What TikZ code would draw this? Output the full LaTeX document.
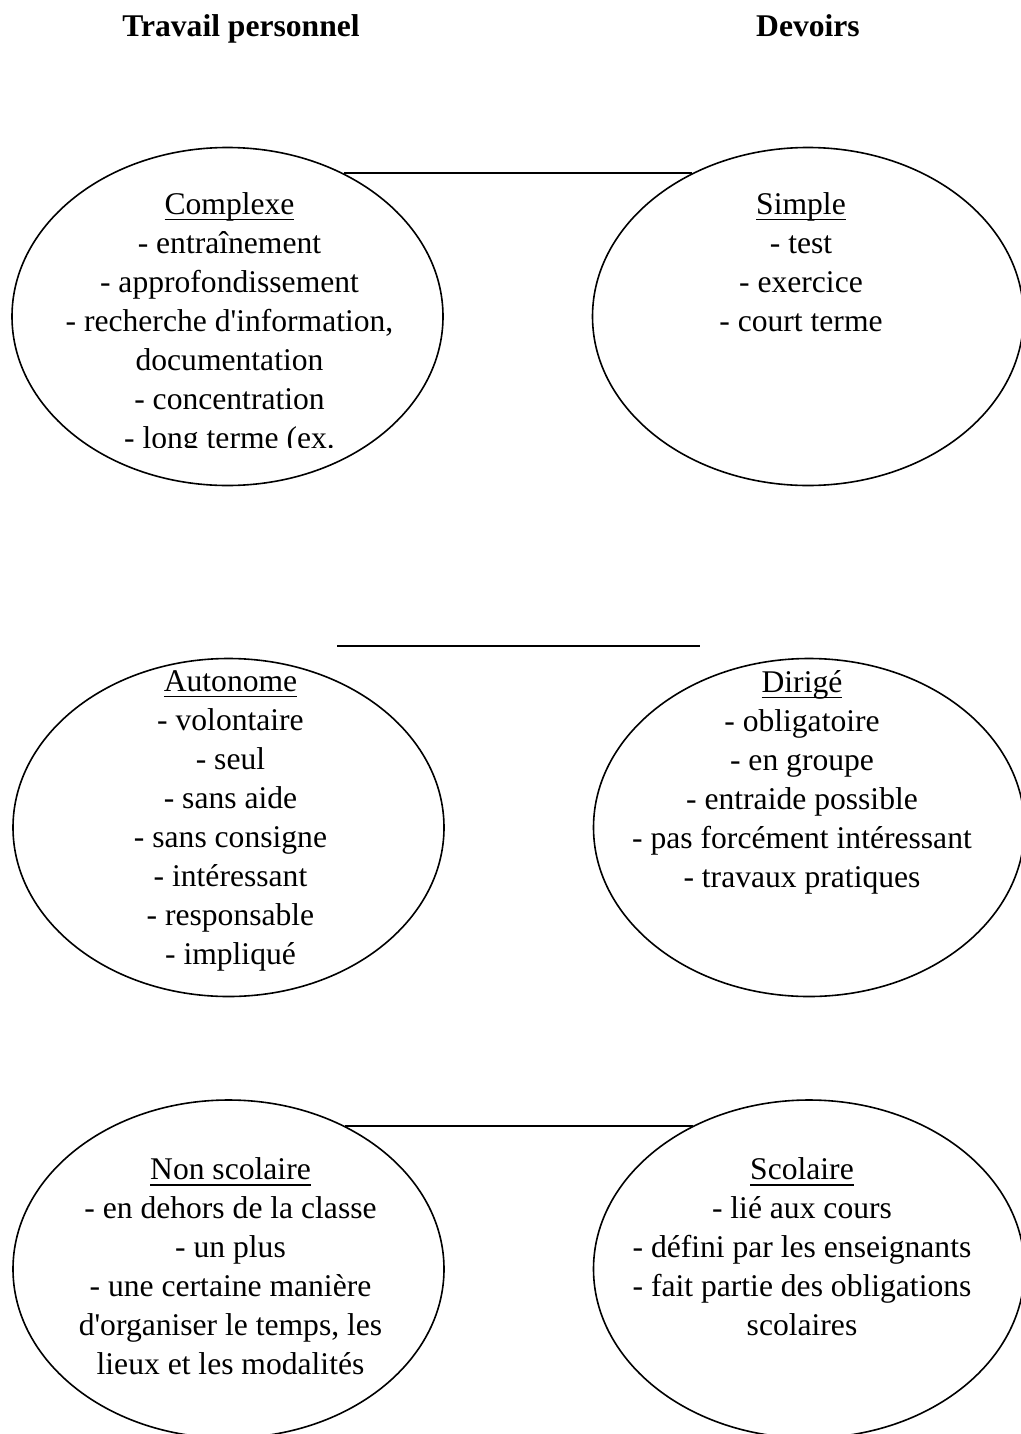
\documentclass[tikz,border=0pt]{standalone}
\usepackage{fontspec}
\setmainfont{Liberation Serif}[Ligatures=TeXOff]
\usepackage{tikz}
\usetikzlibrary{positioning, shapes.geometric}
\newcommand{\souligne}[1]{\setbox0\hbox{#1}\rlap{\rule[-3pt]{\wd0}{0.75pt}}\box0}
\tikzset{
  tpbulle/.style = {ellipse, draw=black, line width=0.8pt, inner sep=0pt,
                    minimum width=215.5pt, minimum height=169pt},
  tptexte/.style = {font=\fontsize{15.8}{19.5}\selectfont, align=center,
                    inner sep=0pt},
  tptitre/.style = {font=\fontsize{15.8}{19.5}\selectfont\bfseries,
                    inner sep=0pt, anchor=base},
  tplien/.style  = {draw=black, line width=0.9pt},
}

\begin{document}
\begin{tikzpicture}[x=0.5pt, y=-0.5pt]
  \useasboundingbox (0,0) rectangle (1021,1434);
  \node[tptitre] (tp) at (241,37) {Travail personnel};
  \node[tptitre] (dv) at (808,37) {Devoirs};

  \node[tpbulle] (cpx) at (227.5,316.5) {};
  \node[tpbulle] (smp) at (808,316.5) {};
  \node[tpbulle] (aut) at (228.5,827.5) {};
  \node[tpbulle] (dir) at (809,827.5) {};
  \node[tpbulle] (nsc) at (228.5,1269) {};
  \node[tpbulle] (sco) at (809,1269) {};

  \begin{scope}
    \clip (0,0) rectangle (1021,447);
    \node[tptexte, below=22.7pt of cpx.north, xshift=1pt] (cpx-t)
         {\souligne{Complexe}\\- entraînement\\- approfondissement\\
          - recherche d'information,\\documentation\\- concentration\\
          - long terme (ex.};
  \end{scope}
  \node[tptexte, below=22.7pt of smp.north, xshift=-3.5pt] (smp-t)
       {\souligne{Simple}\\- test\\- exercice\\- court terme};
  \node[tptexte, below=6.2pt of aut.north, xshift=1pt] (aut-t)
       {\souligne{Autonome}\\- volontaire\\- seul\\- sans aide\\
        - sans consigne\\- intéressant\\- responsable\\- impliqué};
  \node[tptexte, below=6.2pt of dir.north, xshift=-3.5pt] (dir-t)
       {\souligne{Dirigé}\\- obligatoire\\- en groupe\\- entraide possible\\
        - pas forcément intéressant\\- travaux pratiques};
  \node[tptexte, below=29.2pt of nsc.north, xshift=1pt] (nsc-t)
       {\souligne{Non scolaire}\\- en dehors de la classe\\- un plus\\
        - une certaine manière\\d'organiser le temps, les\\
        lieux et les modalités};
  \node[tptexte, below=29.2pt of sco.north, xshift=-3.5pt] (sco-t)
       {\souligne{Scolaire}\\- lié aux cours\\- défini par les enseignants\\
        - fait partie des obligations\\scolaires};

  \coordinate (l2g) at (337,646);
  \coordinate (l2d) at (700,646);
  \draw[tplien] (cpx.51) -- (smp.129);
  \draw[tplien] (l2g) -- (l2d);
  \draw[tplien] (nsc.51) -- (sco.129);
\end{tikzpicture}
\end{document}
